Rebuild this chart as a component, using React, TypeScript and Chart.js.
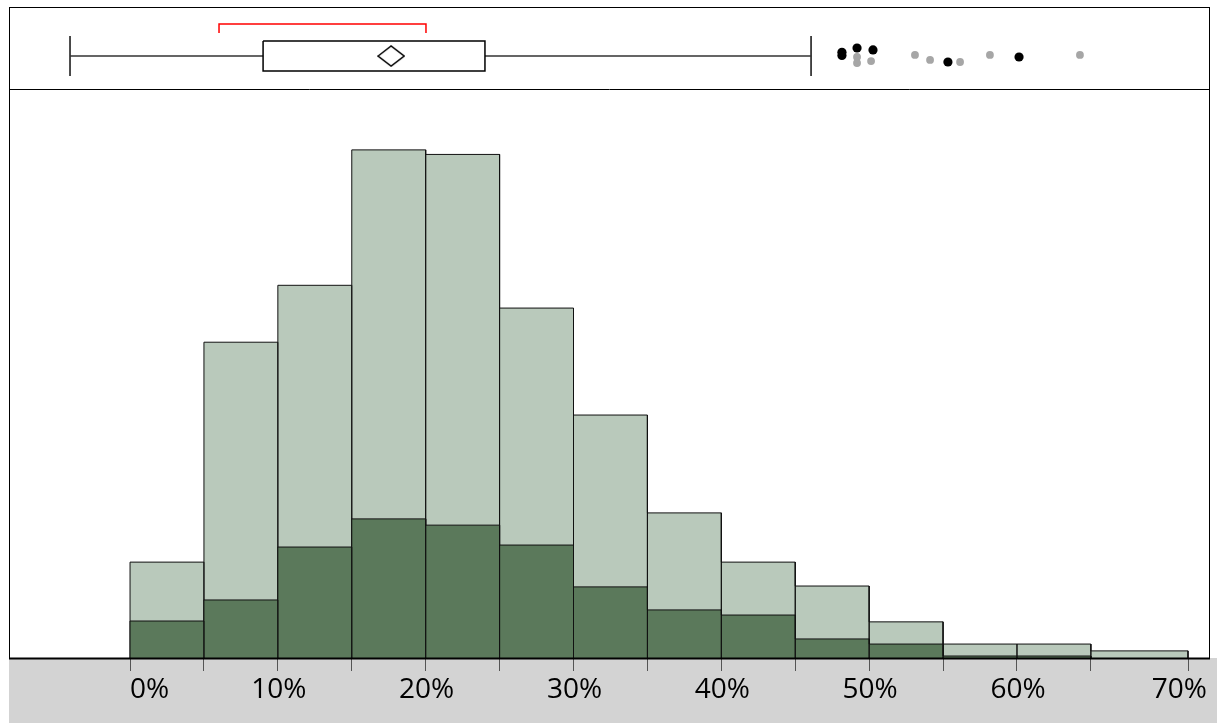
import React, { useEffect, useRef } from 'react';
import { Chart, registerables } from 'chart.js';

Chart.register(...registerables);

// ---- data ----
const binEdges = [0, 5, 10, 15, 20, 25, 30, 35, 40, 45, 50, 55, 60, 65, 71.57];
const allPct = [3.37, 11.1, 13.1, 17.86, 17.7, 12.3, 8.54, 5.1, 3.37, 2.53, 1.27, 0.49, 0.49, 0.25];
const subPct = [1.3, 2.04, 3.9, 4.89, 4.67, 3.97, 2.5, 1.69, 1.51, 0.67, 0.49, 0.07, 0.07, 0];
const tickValues = [0, 5, 10, 15, 20, 25, 30, 35, 40, 45, 50, 55, 60, 65, 71.57];
const labelValues = [0, 10, 20, 30, 40, 50, 60, 71.57];
const tickLabels = ['0%', '10%', '20%', '30%', '40%', '50%', '60%', '70%'];

const whiskerLow = -4.06;
const q1 = 9.0;
const q3 = 24.01;
const meanVal = 17.66;
const whiskerHigh = 46.07;
const bracketLow = 6.02;
const bracketHigh = 20.02;

const outliersBlackX = [48.16, 48.16, 49.18, 50.26, 55.33, 60.14];
const outliersBlackY = [0.448, 0.41, 0.5, 0.476, 0.329, 0.39];
const outliersGrayX = [49.18, 49.18, 50.13, 53.1, 54.12, 56.15, 58.17, 64.26];
const outliersGrayY = [0.39, 0.317, 0.341, 0.415, 0.354, 0.329, 0.415, 0.415];

// ---- layout constants (box panel, in panel units 0..1) ----
const CY = 0.402;
const BOX_TOP = 0.585;
const BOX_BOT = 0.22;
const CAP_TOP = 0.646;
const CAP_BOT = 0.159;
const BR_TOP = 0.793;
const BR_BOT = 0.683;

function outline(vals: number[]) {
  const pts: { x: number; y: number }[] = [];
  vals.forEach((v, i) => {
    if (v <= 0) return;
    pts.push({ x: binEdges[i], y: 0 }, { x: binEdges[i], y: v }, { x: binEdges[i + 1], y: v }, { x: binEdges[i + 1], y: 0 });
  });
  return pts;
}

function diamondImage() {
  const c = document.createElement('canvas');
  c.width = 28;
  c.height = 22;
  const ctx = c.getContext('2d')!;
  ctx.fillStyle = '#fff';
  ctx.strokeStyle = '#000';
  ctx.lineWidth = 1.5;
  ctx.beginPath();
  ctx.moveTo(1, 11);
  ctx.lineTo(14, 1);
  ctx.lineTo(27, 11);
  ctx.lineTo(14, 21);
  ctx.closePath();
  ctx.fill();
  ctx.stroke();
  return c;
}

const framePlugin = {
  id: 'frame',
  beforeDraw(chart: any) {
    const { ctx, chartArea, width, height } = chart;
    ctx.save();
    ctx.fillStyle = '#d3d3d3';
    ctx.fillRect(chartArea.left - 1, chartArea.bottom, width - chartArea.left + 1, height - chartArea.bottom);
    ctx.fillStyle = '#fff';
    ctx.fillRect(chartArea.left, chartArea.top, chartArea.right - chartArea.left, chartArea.bottom - chartArea.top);
    ctx.restore();
  },
  afterDraw(chart: any) {
    const { ctx, chartArea } = chart;
    const yBox = chart.scales.yBox;
    const x = chart.scales.x;
    ctx.save();
    ctx.strokeStyle = '#000';
    ctx.lineWidth = 1;
    ctx.strokeRect(chartArea.left - 0.5, chartArea.top + 0.5, chartArea.right - chartArea.left + 1, chartArea.bottom - chartArea.top);
    ctx.beginPath();
    const dy = Math.round(yBox.bottom) + 0.5;
    ctx.moveTo(chartArea.left, dy);
    ctx.lineTo(chartArea.right, dy);
    ctx.stroke();
    ctx.beginPath();
    ctx.lineWidth = 2;
    ctx.moveTo(chartArea.left - 1, chartArea.bottom + 0.5);
    ctx.lineTo(chartArea.right + 1, chartArea.bottom + 0.5);
    ctx.stroke();

    ctx.fillStyle = '#000';
    ctx.font = '28px "Open Sans", "Noto Sans", sans-serif';
    ctx.textBaseline = 'middle';
    const ly = chartArea.bottom + 32;
    labelValues.forEach((v, i) => {
      const px = x.getPixelForValue(v);
      if (i === 0) {
        ctx.textAlign = 'left';
        ctx.fillText(tickLabels[i], px, ly);
      } else if (i === labelValues.length - 1) {
        ctx.textAlign = 'right';
        ctx.fillText(tickLabels[i], chartArea.right - 2, ly);
      } else {
        ctx.textAlign = 'center';
        ctx.fillText(tickLabels[i], px + 1, ly);
      }
    });
    ctx.restore();
  },
};

export default function App() {
  const ref = useRef<HTMLCanvasElement>(null);
  useEffect(() => {
    if (!ref.current) return;
    const boxLine = { type: 'line', xAxisID: 'x', yAxisID: 'yBox', pointRadius: 0, fill: false, spanGaps: false, tension: 0 };
    const chart = new Chart(ref.current, {
      type: 'line',
      data: {
        datasets: [
          { ...boxLine, label: 'outliersBlack', data: outliersBlackX.map((v, i) => ({ x: v, y: outliersBlackY[i] })), showLine: false, pointRadius: 4.6, pointBackgroundColor: '#000', pointBorderWidth: 0, order: 0 },
          { ...boxLine, label: 'outliersGray', data: outliersGrayX.map((v, i) => ({ x: v, y: outliersGrayY[i] })), showLine: false, pointRadius: 3.9, pointBackgroundColor: '#a6a6a6', pointBorderWidth: 0, order: 1 },
          { ...boxLine, label: 'mean', data: [{ x: meanVal, y: CY }], showLine: false, pointRadius: 12, pointStyle: diamondImage(), order: 2 },
          { ...boxLine, label: 'box', data: [{ x: q1, y: BOX_TOP }, { x: q3, y: BOX_TOP }, { x: q3, y: BOX_BOT }, { x: q1, y: BOX_BOT }, { x: q1, y: BOX_TOP }], borderColor: '#000', borderWidth: 1.5, backgroundColor: '#fff', fill: false, order: 3 },
          { ...boxLine, label: 'whiskers', data: [{ x: whiskerLow, y: CY }, { x: q1, y: CY }, { x: q1, y: null }, { x: q3, y: CY }, { x: whiskerHigh, y: CY }], borderColor: '#333', borderWidth: 1.5, order: 4 },
          { ...boxLine, label: 'caps', data: [{ x: whiskerLow, y: CAP_TOP }, { x: whiskerLow, y: CAP_BOT }, { x: whiskerLow + 0.01, y: null }, { x: whiskerHigh, y: CAP_TOP }, { x: whiskerHigh, y: CAP_BOT }], borderColor: '#111', borderWidth: 1.5, order: 5 },
          { ...boxLine, label: 'bracket', data: [{ x: bracketLow, y: BR_BOT }, { x: bracketLow, y: BR_TOP }, { x: bracketHigh, y: BR_TOP }, { x: bracketHigh, y: BR_BOT }], borderColor: '#ff0000', borderWidth: 1.5, order: 6 },
          { type: 'line', label: 'subset', xAxisID: 'x', yAxisID: 'y', data: outline(subPct), borderColor: '#111', borderWidth: 1, backgroundColor: '#5b795b', fill: 'origin', pointRadius: 0, tension: 0, order: 7 },
          { type: 'line', label: 'all', xAxisID: 'x', yAxisID: 'y', data: outline(allPct), borderColor: '#111', borderWidth: 1, backgroundColor: '#b9c9bb', fill: 'origin', pointRadius: 0, tension: 0, order: 8 },
        ] as any,
      },
      options: {
        animation: false,
        responsive: false,
        layout: { autoPadding: false, padding: { left: 10, right: 8, top: 7, bottom: 0 } },
        plugins: { legend: { display: false }, tooltip: { enabled: false } },
        scales: {
          x: {
            type: 'linear',
            min: -8.12,
            max: 72.99,
            afterBuildTicks: (scale: any) => {
              scale.ticks = tickValues.map((v) => ({ value: v }));
            },
            afterFit: (scale: any) => {
              scale.height = 65;
            },
            ticks: { display: false },
            grid: { drawOnChartArea: false, drawTicks: true, tickLength: 13, color: '#555', lineWidth: 1 },
            border: { display: false },
          },
          y: { type: 'linear', display: false, min: 0, max: 20, stack: 'v', stackWeight: 569, position: 'left' },
          yBox: { type: 'linear', display: false, min: 0, max: 1, stack: 'v', stackWeight: 82, position: 'left' },
        },
      } as any,
      plugins: [framePlugin],
    });
    return () => chart.destroy();
  }, []);
  return (
    <div style={{ position: 'fixed', left: 0, top: 0, width: 1217, height: 723 }}>
      <canvas ref={ref} width={1217} height={723} style={{ display: 'block' }} />
    </div>
  );
}
